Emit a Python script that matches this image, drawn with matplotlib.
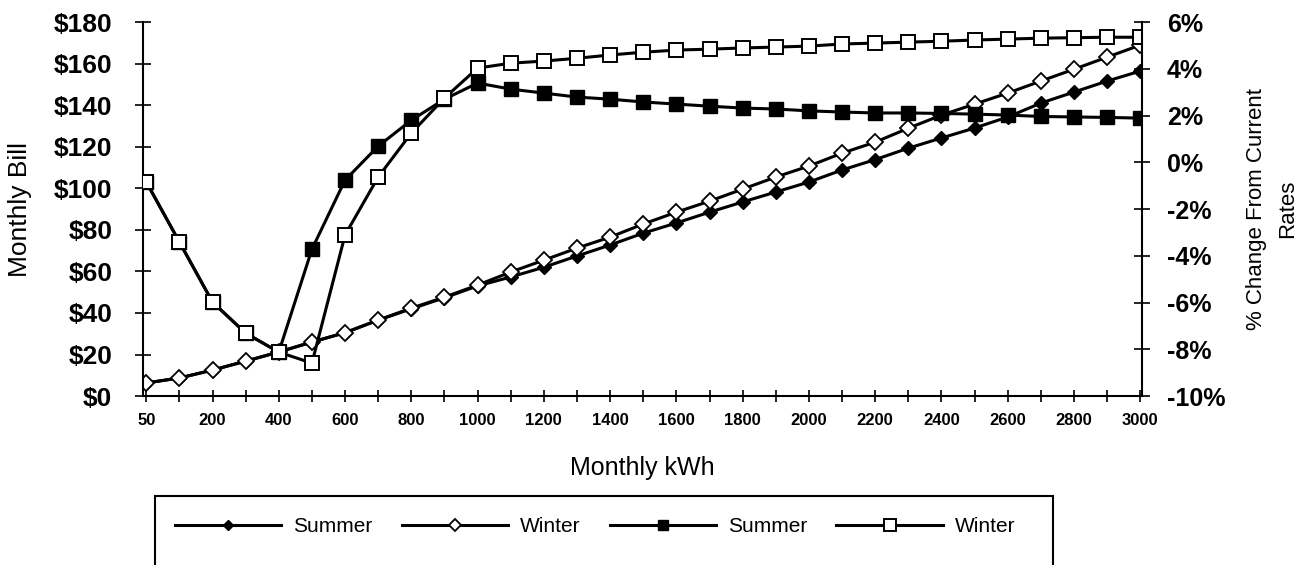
import numpy as np
import matplotlib.pyplot as plt
from matplotlib.patches import Rectangle
from matplotlib.ticker import FuncFormatter

plt.rcParams['font.family'] = ['Liberation Sans', 'DejaVu Sans']

# Monthly kWh categories
kwh = [50, 100, 200, 300, 400, 500, 600, 700, 800, 900, 1000, 1100, 1200, 1300,
       1400, 1500, 1600, 1700, 1800, 1900, 2000, 2100, 2200, 2300, 2400, 2500,
       2600, 2700, 2800, 2900, 3000]

# Monthly bill ($)
bill_summer = [6.3, 8.7, 12.5, 16.8, 21.2, 26.0, 30.5, 36.5, 42.0, 47.3, 53.0,
               57.3, 62.0, 67.4, 72.7, 78.4, 83.3, 88.5, 93.4, 98.2, 103.0,
               108.8, 113.8, 119.3, 124.2, 129.0, 134.3, 141.0, 146.3, 151.6, 156.4]
bill_winter = [6.3, 8.7, 12.5, 16.8, 21.2, 26.0, 30.5, 36.6, 42.3, 47.6, 53.4,
               59.7, 65.4, 71.2, 76.5, 82.8, 88.5, 93.8, 99.6, 105.4, 110.7,
               116.9, 122.2, 128.9, 135.2, 140.5, 145.8, 151.6, 157.3, 163.1, 168.9]

# % change from current rates
pct_summer = [-0.84, -3.41, -5.98, -7.31, -8.12, -3.72, -0.76, 0.69, 1.80, 2.70,
              3.39, 3.13, 2.96, 2.79, 2.70, 2.58, 2.49, 2.40, 2.32, 2.28, 2.20,
              2.15, 2.11, 2.11, 2.09, 2.06, 2.02, 1.96, 1.94, 1.92, 1.89]
pct_winter = [-0.84, -3.41, -5.98, -7.31, -8.12, -8.59, -3.11, -0.63, 1.25, 2.75,
              4.03, 4.24, 4.33, 4.45, 4.59, 4.71, 4.80, 4.84, 4.89, 4.93, 4.97,
              5.06, 5.10, 5.14, 5.18, 5.23, 5.27, 5.31, 5.33, 5.35, 5.35]

x = np.arange(len(kwh))

fig = plt.figure(figsize=(13.15, 5.65), dpi=100)
ax = fig.add_axes([0.1087, 0.299, 0.7597, 0.662])
ax2 = ax.twinx()

lw = 2.2
h1, = ax.plot(x, bill_summer, color='black', lw=lw, marker='D', ms=7,
              mfc='black', mec='black', label='Summer')
h2, = ax.plot(x, bill_winter, color='black', lw=lw, marker='D', ms=8,
              mfc='white', mec='black', mew=1.3, label='Winter')
h3, = ax2.plot(x, pct_summer, color='black', lw=lw, marker='s', ms=9.5,
               mfc='black', mec='black', label='Summer')
h4, = ax2.plot(x, pct_winter, color='black', lw=lw, marker='s', ms=10.5,
               mfc='white', mec='black', mew=1.4, label='Winter')

ax.set_xlim(-0.1, 30.05)
ax.set_ylim(0, 180)
ax2.set_ylim(-10, 6)

ax.set_xticks(x)
ax.set_xticklabels([str(k) if i % 2 == 0 else '' for i, k in enumerate(kwh)],
                   fontsize=12, fontweight='bold')
ax.set_yticks(np.arange(0, 181, 20))
ax.yaxis.set_major_formatter(FuncFormatter(lambda v, p: '${:.0f}'.format(v)))
ax2.set_yticks(np.arange(-10, 7, 2))
ax2.yaxis.set_major_formatter(FuncFormatter(lambda v, p: '{:.0f}%'.format(v)))

for a in (ax, ax2):
    a.spines['top'].set_visible(False)
    for s in a.spines.values():
        s.set_linewidth(1.5)
ax.spines['right'].set_visible(False)
ax2.spines['left'].set_visible(False)
ax2.spines['bottom'].set_visible(False)

ax.tick_params(axis='x', direction='inout', length=9, width=1.2, pad=8)
ax.tick_params(axis='y', direction='inout', length=12, width=1.2, pad=16,
               labelsize=19)
ax2.tick_params(axis='y', direction='inout', length=12, width=1.2, pad=12,
                labelsize=18)
for lab in ax.get_yticklabels() + ax2.get_yticklabels():
    lab.set_fontweight('bold')

ax.set_xlabel('Monthly kWh', fontsize=18, labelpad=20)
ax.set_ylabel('Monthly Bill', fontsize=19, labelpad=16)
ax2.set_ylabel('% Change From Current\nRates', fontsize=16, labelpad=15,
               linespacing=1.6)

# legend frame runs off the bottom of the figure
fig.patches.append(Rectangle((155 / 1315, -0.05), (1053 - 155) / 1315,
                             1 - 496 / 565 + 0.05, transform=fig.transFigure,
                             fill=False, edgecolor='black', lw=1.5))
leg = fig.legend(handles=[h1, h2, h3, h4], labels=['Summer', 'Winter', 'Summer', 'Winter'],
                 loc='center left', bbox_to_anchor=(175 / 1315, 1 - 527 / 565),
                 ncol=4, fontsize=15, handlelength=5.1, handletextpad=0.58,
                 columnspacing=1.4, borderpad=0, borderaxespad=0, frameon=False,
                 markerscale=0.8)

fig.savefig('out.png', dpi=100)
